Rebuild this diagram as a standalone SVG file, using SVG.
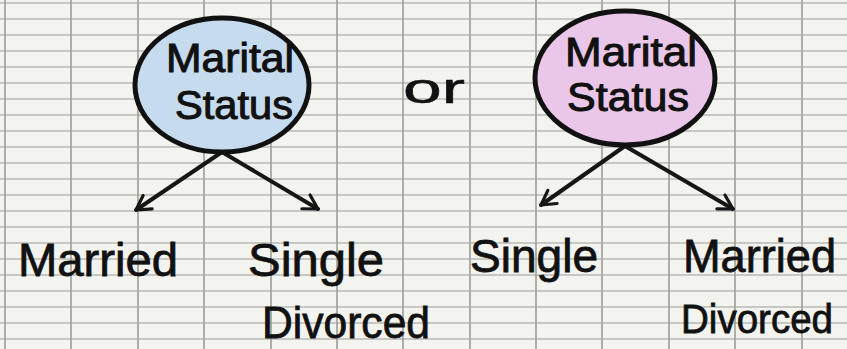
<svg xmlns="http://www.w3.org/2000/svg" width="847" height="349" viewBox="0 0 847 349">
<defs>
<style>
.bg{fill:#f3f3ef}
.gh{stroke:#b9b9b4;stroke-width:1.5}
.gv{stroke:#9d9d98;stroke-width:1.6}
.node{stroke:#111;stroke-width:5}
.t{font-family:"Liberation Sans",Arial,sans-serif;fill:#111;stroke:#111;stroke-width:1;font-size:40px}
.lbl{font-family:"Liberation Sans",Arial,sans-serif;fill:#111;stroke:#111;stroke-width:0.8;font-size:46px}
.conn{stroke:#161616;stroke-width:4;fill:none;stroke-linecap:round}
</style>
<marker id="ah" viewBox="0 0 20 20" refX="16" refY="10" markerWidth="5" markerHeight="5" orient="auto" markerUnits="strokeWidth">
<path d="M2,2 L16,10 L2,18" fill="none" stroke="#161616" stroke-width="3.2" stroke-linecap="round" stroke-linejoin="round"/>
</marker>
</defs>
<rect class="bg" x="0" y="0" width="847" height="349"/>
<g id="grid">
<line class="gh" x1="0" y1="3" x2="847" y2="3"/>
<line class="gh" x1="0" y1="19" x2="847" y2="19"/>
<line class="gh" x1="0" y1="35" x2="847" y2="35"/>
<line class="gh" x1="0" y1="51" x2="847" y2="51"/>
<line class="gh" x1="0" y1="67" x2="847" y2="67"/>
<line class="gh" x1="0" y1="83" x2="847" y2="83"/>
<line class="gh" x1="0" y1="99" x2="847" y2="99"/>
<line class="gh" x1="0" y1="115" x2="847" y2="115"/>
<line class="gh" x1="0" y1="131" x2="847" y2="131"/>
<line class="gh" x1="0" y1="147" x2="847" y2="147"/>
<line class="gh" x1="0" y1="163" x2="847" y2="163"/>
<line class="gh" x1="0" y1="179" x2="847" y2="179"/>
<line class="gh" x1="0" y1="195" x2="847" y2="195"/>
<line class="gh" x1="0" y1="211" x2="847" y2="211"/>
<line class="gh" x1="0" y1="227" x2="847" y2="227"/>
<line class="gh" x1="0" y1="243" x2="847" y2="243"/>
<line class="gh" x1="0" y1="259" x2="847" y2="259"/>
<line class="gh" x1="0" y1="275" x2="847" y2="275"/>
<line class="gh" x1="0" y1="291" x2="847" y2="291"/>
<line class="gh" x1="0" y1="307" x2="847" y2="307"/>
<line class="gh" x1="0" y1="323" x2="847" y2="323"/>
<line class="gh" x1="0" y1="339" x2="847" y2="339"/>
<line class="gv" x1="5" y1="0" x2="5" y2="349"/>
<line class="gv" x1="71" y1="0" x2="71" y2="349"/>
<line class="gv" x1="138" y1="0" x2="138" y2="349"/>
<line class="gv" x1="204" y1="0" x2="204" y2="349"/>
<line class="gv" x1="271" y1="0" x2="271" y2="349"/>
<line class="gv" x1="337" y1="0" x2="337" y2="349"/>
<line class="gv" x1="403" y1="0" x2="403" y2="349"/>
<line class="gv" x1="470" y1="0" x2="470" y2="349"/>
<line class="gv" x1="536" y1="0" x2="536" y2="349"/>
<line class="gv" x1="602" y1="0" x2="602" y2="349"/>
<line class="gv" x1="669" y1="0" x2="669" y2="349"/>
<line class="gv" x1="735" y1="0" x2="735" y2="349"/>
<line class="gv" x1="802" y1="0" x2="802" y2="349"/>
</g>
<g id="connectors">
<line class="conn" x1="222" y1="152" x2="136" y2="210" marker-end="url(#ah)"/>
<line class="conn" x1="222" y1="152" x2="318" y2="209" marker-end="url(#ah)"/>
<line class="conn" x1="625" y1="146" x2="541" y2="205" marker-end="url(#ah)"/>
<line class="conn" x1="625" y1="146" x2="733" y2="209" marker-end="url(#ah)"/>
</g>
<g id="node-left">
<ellipse class="node" cx="222" cy="85" rx="87" ry="67" fill="#c6dcee"/>
<text class="t" x="166" y="72" textLength="128" lengthAdjust="spacingAndGlyphs">Marital</text>
<text class="t" x="175" y="119" textLength="118" lengthAdjust="spacingAndGlyphs">Status</text>
</g>
<g id="or">
<text class="t" x="403" y="103" textLength="62" lengthAdjust="spacingAndGlyphs" style="font-size:42px;stroke-width:0.5">or</text>
</g>
<g id="node-right">
<ellipse class="node" cx="625" cy="78" rx="90" ry="67" fill="#eac6e8"/>
<text class="t" x="565" y="66" textLength="132" lengthAdjust="spacingAndGlyphs">Marital</text>
<text class="t" x="567" y="111" textLength="122" lengthAdjust="spacingAndGlyphs">Status</text>
</g>
<g id="label-married-left">
<text class="lbl" x="18" y="276" textLength="160" lengthAdjust="spacingAndGlyphs">Married</text>
</g>
<g id="label-single-left">
<text class="lbl" x="262" y="338" textLength="168" lengthAdjust="spacingAndGlyphs" style="font-size:44px">Divorced</text>
<text class="lbl" x="248" y="276" textLength="136" lengthAdjust="spacingAndGlyphs">Single</text>
</g>
<g id="label-single-right">
<text class="lbl" x="470" y="272" textLength="128" lengthAdjust="spacingAndGlyphs">Single</text>
</g>
<g id="label-married-right">
<text class="lbl" x="683" y="272" textLength="153" lengthAdjust="spacingAndGlyphs">Married</text>
<text class="lbl" x="681" y="333" textLength="152" lengthAdjust="spacingAndGlyphs" style="font-size:41px">Divorced</text>
</g>
</svg>
